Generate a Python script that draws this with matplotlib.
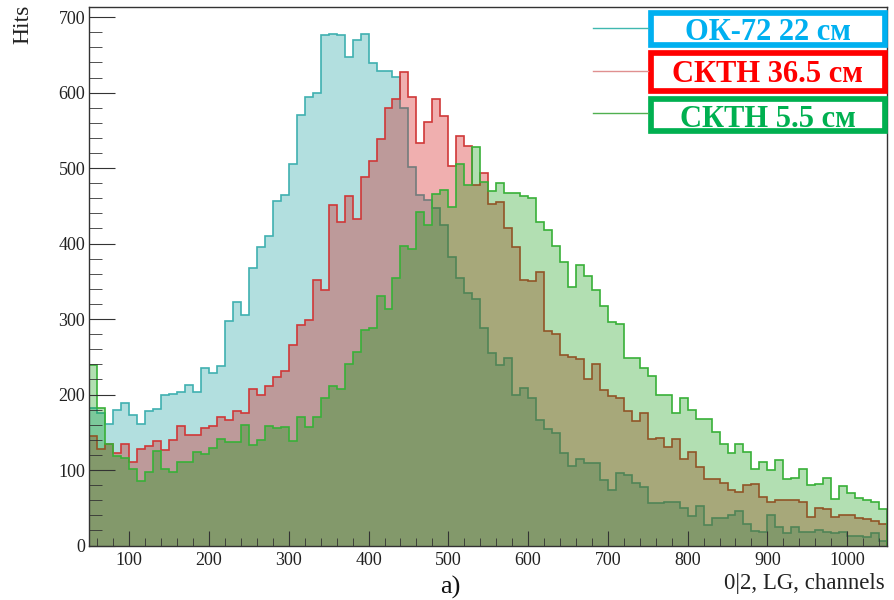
import numpy as np
import matplotlib.pyplot as plt
from matplotlib.patches import Rectangle
from matplotlib.lines import Line2D
from matplotlib.ticker import MultipleLocator

plt.rcParams['font.family'] = ['Liberation Serif', 'DejaVu Serif']

# bin edges: 100 channels of width 10, from 50 to 1050
edges = np.arange(50, 1051, 10)

ok72_22 = [182, 176, 161, 180, 189, 173, 161, 178, 181, 199,
           201, 203, 212, 203, 235, 229, 238, 298, 323, 305,
           367, 396, 410, 456, 464, 505, 571, 594, 599, 676,
           677, 676, 647, 670, 678, 639, 629, 629, 621, 580,
           501, 464, 458, 447, 425, 382, 355, 334, 327, 288,
           255, 239, 249, 199, 209, 195, 166, 154, 149, 123,
           106, 114, 109, 109, 87, 73, 96, 93, 83, 77,
           56, 56, 58, 57, 50, 39, 53, 27, 37, 36,
           40, 46, 29, 19, 18, 40, 25, 16, 24, 18,
           18, 20, 18, 17, 18, 13, 13, 11, 16, 6]

sktn_365 = [145, 128, 135, 123, 135, 111, 128, 132, 139, 127,
            140, 159, 146, 146, 156, 158, 170, 166, 178, 175,
            208, 200, 211, 223, 231, 265, 292, 299, 352, 338,
            451, 428, 463, 432, 488, 509, 539, 579, 591, 627,
            594, 533, 561, 591, 569, 503, 543, 529, 477, 494,
            452, 455, 420, 396, 352, 350, 363, 284, 280, 252,
            250, 247, 221, 240, 206, 198, 195, 178, 165, 176,
            141, 143, 131, 141, 114, 124, 104, 88, 88, 83,
            74, 71, 80, 82, 64, 57, 60, 60, 60, 58,
            38, 50, 49, 38, 40, 40, 36, 35, 33, 29]

sktn_55 = [239, 182, 135, 119, 116, 102, 85, 98, 125, 101,
           98, 110, 111, 124, 121, 129, 141, 137, 137, 160,
           133, 140, 158, 156, 157, 139, 170, 157, 170, 195,
           211, 208, 241, 256, 286, 288, 331, 313, 354, 397,
           393, 442, 424, 466, 471, 448, 505, 477, 528, 481,
           470, 480, 467, 467, 463, 460, 428, 418, 397, 375,
           343, 371, 357, 339, 317, 296, 294, 249, 249, 235,
           225, 199, 199, 175, 195, 179, 167, 167, 151, 134,
           123, 134, 124, 101, 111, 100, 113, 88, 89, 102,
           80, 82, 89, 62, 79, 70, 63, 60, 58, 49]

labels = ['ОК-72 22 см', 'СКТН 36.5 см', 'СКТН 5.5 см']
label_colors = ['#00B0F0', '#FF0000', '#00B050']

hists = [ok72_22, sktn_365, sktn_55]
fill_colors = ['#009898', '#d41a1a', '#009800']
fill_alpha = [0.30, 0.35, 0.30]
line_colors = ['#3fb0b0', '#d03838', '#38b038']
legend_line_colors = ['#40b8b0', '#e09090', '#50b050']

fig = plt.figure(figsize=(8.94, 6), dpi=100)
ax = fig.add_axes([0.1, 0.0908, 0.8922, 0.897])

for vals, fc, a, lc in zip(hists, fill_colors, fill_alpha, line_colors):
    ax.stairs(vals, edges, fill=True, color=fc, alpha=a, lw=0)
    ax.stairs(vals, edges, color=lc, lw=1.2)

ax.set_xlim(50, 1050)
ax.set_ylim(0, 713)
ax.xaxis.set_major_locator(MultipleLocator(100))
ax.xaxis.set_minor_locator(MultipleLocator(20))
ax.yaxis.set_major_locator(MultipleLocator(100))
ax.yaxis.set_minor_locator(MultipleLocator(20))
ax.tick_params(which='both', direction='in', top=False, right=False,
               color='#333333', labelsize=13, labelcolor='#222222')
ax.tick_params(axis='x', which='major', length=10.8, pad=5)
ax.tick_params(axis='x', which='minor', length=5.5)
ax.tick_params(axis='y', which='major', length=18.5, pad=3)
ax.tick_params(axis='y', which='minor', length=9.3)
for s in ax.spines.values():
    s.set_color('#333333')
    s.set_linewidth(1.0)

fig.text(22.5 / 894, 1 - 5 / 600, 'Hits', rotation=90, ha='center',
         va='top', fontsize=17, color='#222222')
fig.text(885 / 894, 1 - 583 / 600, '0|2, LG, channels', ha='right',
         va='center', fontsize=16.5, color='#222222')
fig.text(450 / 894, 0.001, 'a)', ha='center', va='bottom',
         fontsize=19, color='#111111')

# legend: line samples with framed labels
line_y = [28, 71, 113]
box_y = [(13, 45), (53, 91), (99, 131)]
text_base = [40, 82, 127]
for i in range(3):
    fig.add_artist(Line2D([593 / 894, 648 / 894],
                          [1 - line_y[i] / 600] * 2,
                          color=legend_line_colors[i], lw=1.0,
                          transform=fig.transFigure))
    y0, y1 = box_y[i]
    fig.add_artist(Rectangle((651 / 894, 1 - y1 / 600), 234 / 894,
                             (y1 - y0) / 600, facecolor='white',
                             edgecolor=label_colors[i], lw=4.1,
                             transform=fig.transFigure))
    fig.text(768 / 894, 1 - text_base[i] / 600, labels[i], ha='center',
             va='baseline', fontsize=22, fontweight='bold',
             color=label_colors[i])

fig.savefig('out.png', dpi=100)
